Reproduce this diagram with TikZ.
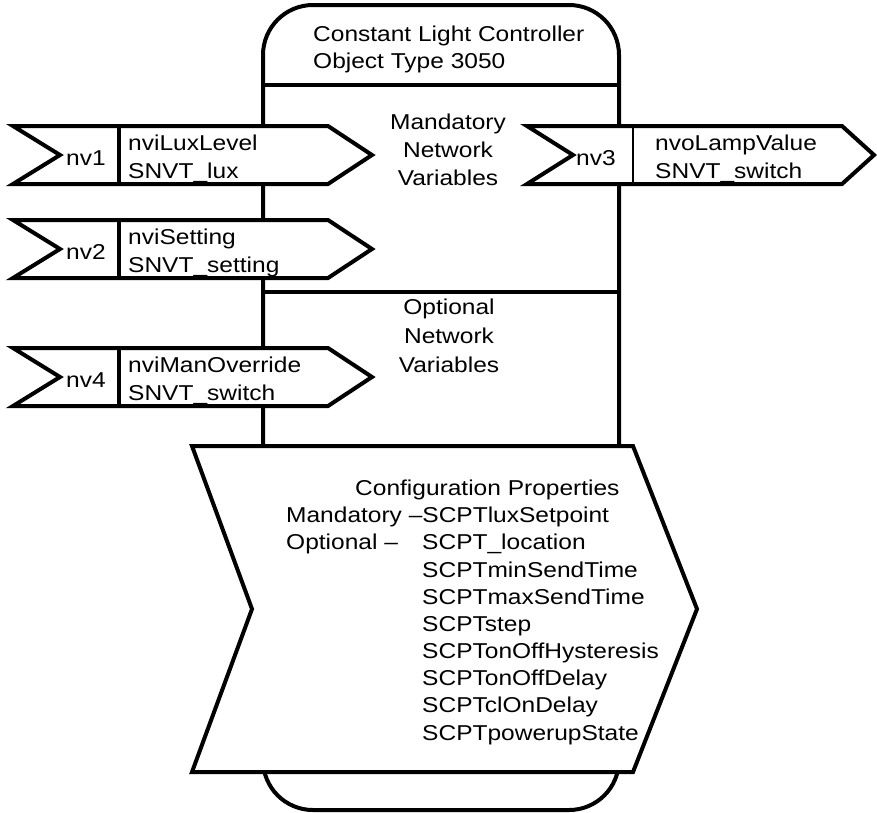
\documentclass[tikz,border=0pt]{standalone}
\usepackage{fontspec}
\setmainfont{Liberation Sans}[FakeStretch=1.14]
\begin{document}
\begin{tikzpicture}[x=1pt,y=-1pt,
  outline/.style={draw=black, line width=4pt, fill=white, line join=miter},
  sep/.style={draw=black, line width=4pt},
  thinsep/.style={draw=black, line width=2.5pt},
  txt/.style={inner sep=0pt, anchor=base west, font=\fontsize{21.5}{27}\selectfont},
  ctxt/.style={inner sep=0pt, anchor=base, font=\fontsize{21.5}{27}\selectfont}]
\useasboundingbox (0,0) rectangle (877,812);
% body
\draw[outline, rounded corners=50pt] (263,5) rectangle (619,810);
\draw[sep] (263,85) -- (619,85);
\draw[sep] (263,292) -- (619,292);
% title
\node[txt] (t1) at (313,41) {Constant Light Controller};
\node[txt] (t2) at (313,68) {Object Type 3050};
% section labels
\node[ctxt] (m1) at (448,129) {Mandatory};
\node[ctxt] (m2) at (448,157) {Network};
\node[ctxt] (m3) at (448,185) {Variables};
\node[ctxt] (o1) at (449,314) {Optional};
\node[ctxt] (o2) at (449,343) {Network};
\node[ctxt] (o3) at (449,372) {Variables};
% nv1
\draw[outline] (13,126) -- (328,126) -- (372,155) -- (328,184) -- (13,184) -- (60,155) -- cycle;
\draw[sep] (119,126) -- (119,184);
\node[txt] (nv1) at (66,165) {nv1};
\node[txt] (nv1a) at (128,150) {nviLuxLevel};
\node[txt] (nv1b) at (128,178) {SNVT\_lux};
% nv2
\draw[outline] (13,220) -- (328,220) -- (372,249) -- (328,278) -- (13,278) -- (60,249) -- cycle;
\draw[sep] (119,220) -- (119,278);
\node[txt] (nv2) at (66,259) {nv2};
\node[txt] (nv2a) at (128,244) {nviSetting};
\node[txt] (nv2b) at (128,272) {SNVT\_setting};
% nv4
\draw[outline] (13,348) -- (328,348) -- (372,377) -- (328,406) -- (13,406) -- (60,377) -- cycle;
\draw[sep] (119,348) -- (119,406);
\node[txt] (nv4) at (66,387) {nv4};
\node[txt] (nv4a) at (128,372) {nviManOverride};
\node[txt] (nv4b) at (128,400) {SNVT\_switch};
% nv3
\draw[outline] (527,126) -- (842,126) -- (874,155) -- (842,184) -- (527,184) -- (573,155) -- cycle;
\draw[thinsep] (633,126) -- (633,184);
\node[txt] (nv3) at (576,165) {nv3};
\node[txt] (nv3a) at (655,150) {nvoLampValue};
\node[txt] (nv3b) at (655,178) {SNVT\_switch};
% configuration properties
\draw[outline] (192,446) -- (633,446) -- (697,609) -- (633,772) -- (192,772) -- (252,609) -- cycle;
\node[txt] (c0) at (355,495) {Configuration Properties};
\node[txt] (c1) at (286,522) {Mandatory –SCPTluxSetpoint};
\node[txt] (c2l) at (286,549) {Optional –};
\node[txt] (c2) at (422,549) {SCPT\_location};
\node[txt] (c3) at (422,577) {SCPTminSendTime};
\node[txt] (c4) at (422,604) {SCPTmaxSendTime};
\node[txt] (c5) at (422,631) {SCPTstep};
\node[txt] (c6) at (422,658) {SCPTonOffHysteresis};
\node[txt] (c7) at (422,685) {SCPTonOffDelay};
\node[txt] (c8) at (422,712) {SCPTclOnDelay};
\node[txt] (c9) at (422,740) {SCPTpowerupState};
\end{tikzpicture}
\end{document}
